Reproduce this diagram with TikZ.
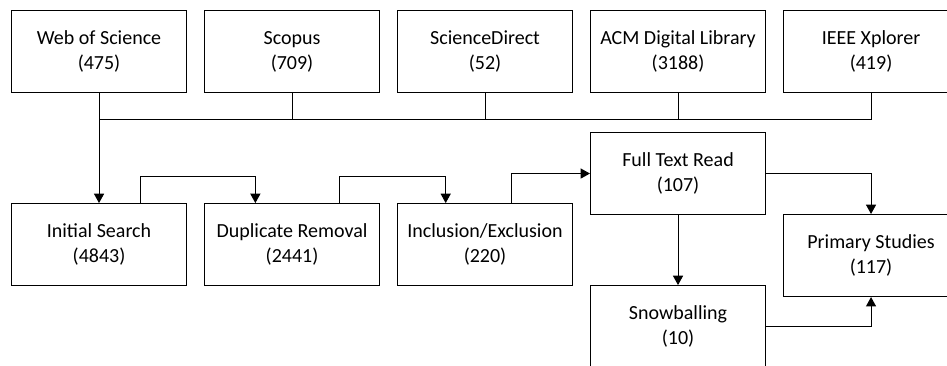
\documentclass[tikz,border=0pt]{standalone}
\usepackage{fontspec}
\setmainfont{Carlito}
\usepackage{tikz}
\usetikzlibrary{arrows.meta,positioning,calc}
\tikzset{
    stage/.style={draw, thick, minimum width=131.25pt, minimum height=61.5pt, inner sep=0pt, align=center, font=\fontsize{15pt}{18.75pt}\selectfont},
    flow/.style={-{Triangle[length=7pt, width=7.5pt]}, thick},
    link/.style={thick}
}

\begin{document}
\begin{tikzpicture}[node distance=12.7pt]
    \useasboundingbox (0,0) rectangle (710.25pt,-273.75pt);
    \clip (0,0) rectangle (710.25pt,-273.75pt);
    % sources
    \node[stage, anchor=north west] (wos) at (8.25pt,-7.5pt) {Web of Science\\(475)};
    \node[stage, right=of wos] (scopus) {Scopus\\(709)};
    \node[stage, right=of scopus] (sd) {ScienceDirect\\(52)};
    \node[stage, right=of sd] (acm) {ACM Digital Library\\(3188)};
    \node[stage, right=of acm] (ieee) {IEEE Xplorer\\(419)};
    % selection steps
    \node[stage, below=82.5pt of wos] (init) {Initial Search\\(4843)};
    \node[stage, right=of init] (dup) {Duplicate Removal\\(2441)};
    \node[stage, right=of dup] (incl) {Inclusion/Exclusion\\(220)};
    \node[stage, below=29.2pt of acm] (full) {Full Text Read\\(107)};
    \node[stage, below=52.5pt of full] (snow) {Snowballing\\(10)};
    \node[stage, below=90.7pt of ieee] (prim) {Primary Studies\\(117)};
    % merge of sources
    \coordinate (bus) at ($(wos.south)+(0,-19.5pt)$);
    \draw[link] (bus) -| (ieee.south);
    \draw[link] (scopus.south) -- (scopus.south |- bus);
    \draw[link] (sd.south) -- (sd.south |- bus);
    \draw[link] (acm.south) -- (acm.south |- bus);
    \draw[flow] (wos) -- (init);
    % flow
    \draw[flow] ([xshift=31pt]init.north) -- ++(0,20pt) -| ([xshift=-27.5pt]dup.north);
    \draw[flow] ([xshift=35.5pt]dup.north) -- ++(0,20pt) -| ([xshift=-29.5pt]incl.north);
    \draw[flow] ([xshift=20pt]incl.north) |- (full.west);
    \draw[flow] (full.east) -| (prim.north);
    \draw[flow] (full) -- (snow);
    \draw[flow] (snow.east) -| (prim.south);
\end{tikzpicture}
\end{document}
